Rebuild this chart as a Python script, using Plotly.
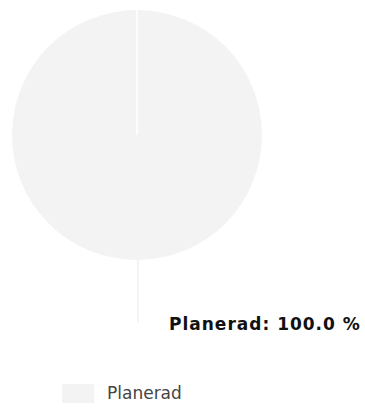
import plotly.graph_objects as go

labels = ["Planerad"]
values = [100.0]
colors = ["#f3f3f3"]

W, H = 365, 408
# pie placement in pixels
cx, cy, r = 137, 135, 125

def px(x):
    return x / W

def py(y):
    return 1 - y / H

total = sum(values)
fig = go.Figure(go.Pie(
    labels=labels, values=values,
    marker=dict(colors=colors, line=dict(color="white", width=0)),
    textinfo="none", sort=False, direction="clockwise", rotation=0,
    hoverinfo="label+percent",
    domain=dict(x=[px(cx - r), px(cx + r)], y=[py(cy + r), py(cy - r)]),
    showlegend=False,
))

shapes = []
# slice border from centre to top
shapes.append(dict(type="line", xref="paper", yref="paper",
                   x0=px(cx), y0=py(cy), x1=px(cx), y1=py(cy - r),
                   line=dict(color="white", width=1.5)))
# connector from pie bottom down to label
shapes.append(dict(type="line", xref="paper", yref="paper",
                   x0=px(cx + 1), y0=py(cy + r), x1=px(cx + 1), y1=py(cy + r + 62),
                   line=dict(color="#e8e8e8", width=1)))
# legend swatch
shapes.append(dict(type="rect", xref="paper", yref="paper",
                   x0=px(62), x1=px(94), y0=py(403), y1=py(384),
                   fillcolor=colors[0], line=dict(width=0)))

annotations = []
for lab, v in zip(labels, values):
    annotations.append(dict(
        text=f"<span style='letter-spacing:1px'><b>{lab}: {v / total * 100:.1f} %</b></span>",
        xref="paper", yref="paper", x=px(167), y=py(324),
        xanchor="left", yanchor="middle", showarrow=False,
        font=dict(family="DejaVu Sans, sans-serif", size=17, color="#111111")))
    annotations.append(dict(
        text=lab, xref="paper", yref="paper", x=px(105), y=py(393),
        xanchor="left", yanchor="middle", showarrow=False,
        font=dict(family="DejaVu Sans, sans-serif", size=17, color="#444444")))

fig.update_layout(
    width=W, height=H, margin=dict(l=0, r=0, t=0, b=0),
    paper_bgcolor="white", plot_bgcolor="white",
    shapes=shapes, annotations=annotations,
)
fig.write_html("out.html")
